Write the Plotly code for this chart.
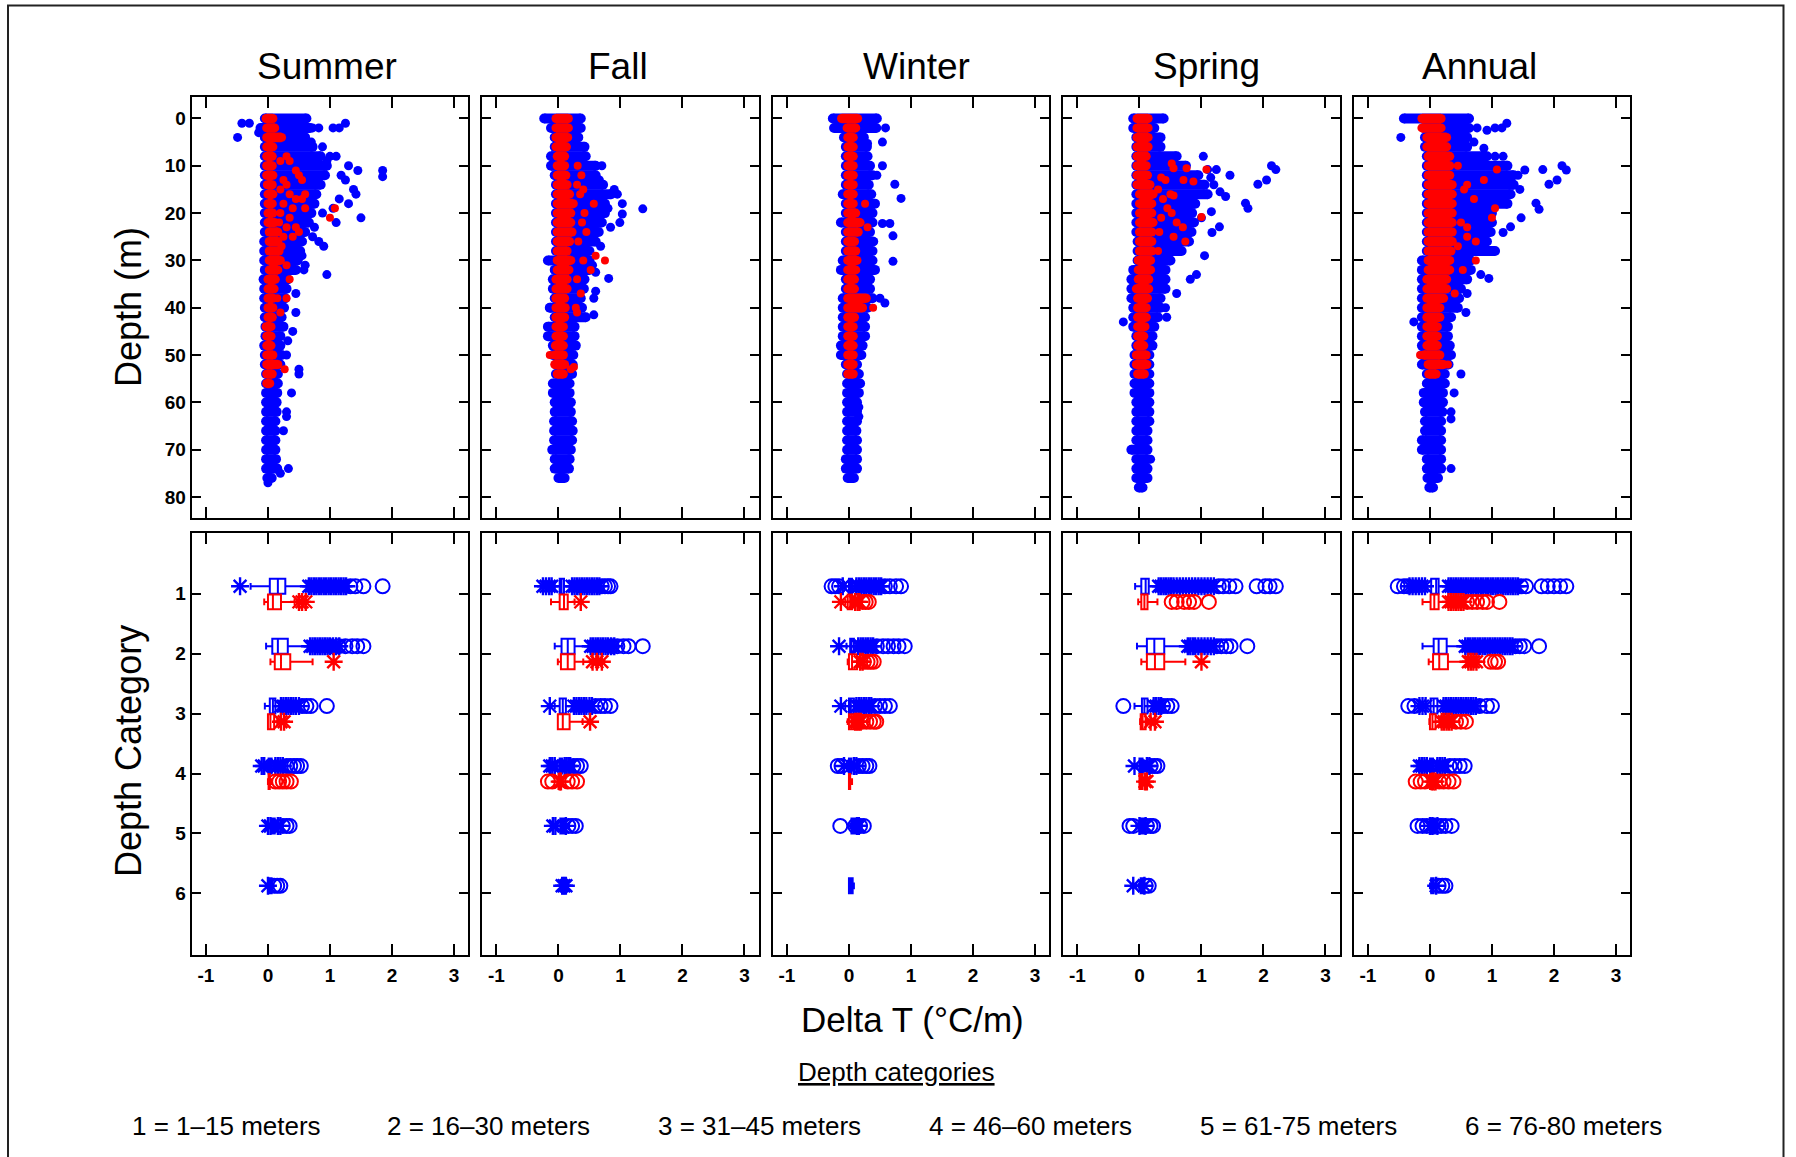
import plotly.graph_objects as go

W, H = 1796, 1157
BLUE = "#0000FF"
RED = "#FF0000"

seasons = ["Summer", "Fall", "Winter", "Spring", "Annual"]
title_x_px = [327, 618, 916, 1206, 1479]
depth_ticks = [0, 10, 20, 30, 40, 50, 60, 70, 80]
category_ticks = [1, 2, 3, 4, 5, 6]
delta_ticks = [-1, 0, 1, 2, 3]
delta_tick_text = ["-1", "0", "1", "2", "3"]
legend_labels = ["1 = 1\u201315 meters", "2 = 16\u201330 meters", "3 = 31\u201345 meters",
                 "4 = 46\u201360 meters", "5 = 61-75 meters", "6 = 76-80 meters"]
legend_x_px = [226, 488, 759, 1030, 1298, 1563]

# ---------------- top panels: depth rows (blue = all, red = subset) ----------------
rows_76 = [0, 2, 4, 6, 8, 10, 12, 14, 16, 18, 20, 22, 24, 26, 28, 30, 32, 34, 36, 38,
           40, 42, 44, 46, 48, 50, 52, 54, 56, 58, 60, 62, 64, 66, 68, 70, 72, 74, 76]
rows_78 = rows_76 + [78]
rows_54 = [0, 2, 4, 6, 8, 10, 12, 14, 16, 18, 20, 22, 24, 26, 28, 30, 32, 34, 36, 38,
           40, 42, 44, 46, 48, 50, 52, 54]
rows_56 = rows_54 + [56]

# Summer
summer_blue_lo = [-0.05, -0.12, -0.05, -0.05, -0.05, -0.05, -0.05, -0.05, -0.05, -0.05, -0.05, -0.05, -0.05,
                  -0.06, -0.06, -0.06, -0.05, -0.07, -0.06, -0.06, -0.05, -0.05, -0.04, -0.04, -0.06, -0.05,
                  -0.05, -0.03, -0.03, -0.03, -0.03, -0.03, -0.03, -0.03, -0.03, -0.03, -0.03, -0.03, -0.01]
summer_blue_hi = [0.62, 0.68, 0.6, 0.72, 0.85, 0.95, 0.92, 0.85, 0.78, 0.75, 0.7, 0.66, 0.6, 0.55, 0.52, 0.48,
                  0.45, 0.32, 0.3, 0.28, 0.26, 0.22, 0.25, 0.2, 0.2, 0.22, 0.2, 0.16, 0.16, 0.15, 0.14, 0.14,
                  0.12, 0.12, 0.12, 0.12, 0.13, 0.15, 0.06]
summer_blue_px = [-0.42, -0.3, -0.49, -0.15, 1.25, 1.15, 1.05, 0.82, 0.72, 0.7, 0.88, 1.0, 1.1, 0.95, 1.3, 1.45,
                  1.85, 1.85, 1.18, 1.25, 1.38, 1.42, 1.15, 1.3, 1.05, 0.88, 1.5, 1.1, 0.75, 0.72, 0.82, 0.9,
                  0.55, 0.6, 0.58, 0.95, 0.45, 0.45, 0.4, 0.32, 0.3, 0.5, 0.5, 0.38, 0.3, 0.3, 0.25, 0.33, 0.2, 0.0]
summer_blue_pd = [1, 1, 4, 3, 1, 2, 2, 2, 2, 5, 6, 8, 8, 9, 10, 11, 11, 12.3, 12, 13, 15, 16, 17, 18, 19, 20,
                  21, 22, 23, 25, 26, 27, 29, 31, 32, 33, 37, 41, 45, 47, 50, 53, 54, 58, 62, 63, 66, 74, 75, 77]
summer_red_lo = [-0.03, -0.02, -0.02, -0.02, -0.02, -0.02, -0.02, -0.01, 0.0, 0.0, 0.0, 0.0, 0.02, 0.02, 0.02,
                 0.02, 0.02, 0.0, 0.0, 0.0, 0.0, 0.0, -0.03, -0.02, -0.02, -0.02, -0.02, -0.02, -0.02]
summer_red_hi = [0.08, 0.11, 0.22, 0.08, 0.07, 0.07, 0.08, 0.07, 0.08, 0.07, 0.08, 0.11, 0.16, 0.16, 0.18, 0.2,
                 0.16, 0.12, 0.1, 0.08, 0.08, 0.07, 0.05, 0.05, 0.05, 0.08, 0.16, 0.07, 0.03]
summer_red_px = [0.3, 0.35, 0.2, 0.45, 0.5, 0.55, 0.25, 0.3, 0.2, 0.35, 0.6, 0.45, 0.55, 0.25, 0.4, 0.6, 1.08,
                 0.2, 0.35, 1.0, 0.18, 0.3, 0.45, 0.5, 0.25, 0.4, 0.22, 0.3, 0.35, 0.15, 0.3, 0.2, 0.27, 0.15]
summer_red_pd = [8, 9, 9, 11, 12, 13, 13, 14, 15, 16, 16, 17, 17, 18, 19, 19, 19, 20, 21, 21, 22, 23, 23, 24,
                 25, 25, 27, 31, 34, 38, 38, 41, 53, 52]

# Fall
fall_blue_lo = [-0.23, -0.12, -0.06, -0.06, -0.12, -0.12, -0.06, -0.04, -0.04, -0.04, -0.04, -0.04, -0.04,
                -0.04, -0.04, -0.17, -0.06, -0.09, -0.09, -0.06, -0.14, -0.06, -0.17, -0.17, -0.09, -0.09,
                -0.04, -0.04, -0.09, -0.09, -0.06, -0.06, -0.07, -0.07, -0.07, -0.1, -0.06, -0.06, 0.0]
fall_blue_hi = [0.36, 0.36, 0.32, 0.42, 0.44, 0.6, 0.6, 0.72, 0.85, 0.75, 0.75, 0.7, 0.65, 0.6, 0.5, 0.5, 0.5,
                0.42, 0.41, 0.36, 0.38, 0.44, 0.26, 0.26, 0.28, 0.24, 0.23, 0.22, 0.18, 0.18, 0.2, 0.2, 0.22,
                0.23, 0.22, 0.2, 0.18, 0.17, 0.1]
fall_blue_px = [0.7, 0.9, 1.03, 1.36, 1.03, 0.99, 0.84, 0.68, 0.6, 0.81, 0.6, 0.57, 0.57, -0.14, 0.55, 0.95,
                0.8, 0.66]
fall_blue_pd = [10, 15, 18, 19.1, 20.2, 22, 23, 27, 32.5, 33.8, 36.5, 38, 41.5, 40, 31, 16, 19, 13]
fall_red_lo = [-0.04, -0.04, -0.04, -0.04, -0.02, -0.02, -0.02, -0.02, -0.02, -0.02, -0.02, -0.02, -0.02,
               -0.02, -0.02, -0.02, -0.02, -0.04, -0.04, -0.04, -0.04, -0.04, -0.04, -0.04, -0.05, -0.06,
               -0.06, -0.02]
fall_red_hi = [0.16, 0.16, 0.15, 0.13, 0.1, 0.1, 0.12, 0.14, 0.18, 0.24, 0.2, 0.2, 0.22, 0.18, 0.14, 0.2, 0.17,
               0.14, 0.14, 0.1, 0.11, 0.1, 0.08, 0.08, 0.08, 0.08, 0.1, 0.08]
fall_red_px = [0.31, 0.37, 0.4, 0.57, 0.6, 0.75, 0.52, 0.36, 0.28, 0.3, -0.14, 0.2, 0.25, 0.3, 0.35, 0.42,
               0.38, 0.45, 0.32, 0.4, 0.3]
fall_red_pd = [10, 12, 15, 18, 29, 30, 32, 37, 40, 41, 50, 53, 52.5, 14, 16, 20, 22, 24, 26, 30, 34]

# Winter
winter_blue_lo = [-0.26, -0.24, -0.08, -0.05, -0.05, -0.05, -0.05, -0.05, -0.1, -0.05, -0.05, -0.13, -0.05,
                  -0.05, -0.05, -0.1, -0.13, -0.05, -0.05, -0.1, -0.1, -0.1, -0.1, -0.1, -0.13, -0.13, -0.05,
                  -0.03, -0.03, -0.03, -0.03, -0.03, -0.03, -0.03, -0.03, -0.03, -0.05, -0.05, -0.02]
winter_blue_hi = [0.45, 0.44, 0.24, 0.29, 0.3, 0.34, 0.38, 0.32, 0.36, 0.42, 0.38, 0.38, 0.34, 0.38, 0.38,
                  0.38, 0.42, 0.34, 0.34, 0.38, 0.3, 0.26, 0.26, 0.26, 0.22, 0.2, 0.13, 0.16, 0.18, 0.16, 0.13,
                  0.13, 0.13, 0.12, 0.13, 0.13, 0.13, 0.13, 0.08]
winter_blue_px = [0.59, 0.54, 0.3, 0.54, 0.74, 0.84, 0.54, 0.66, 0.71, 0.71, 0.5, 0.58, 0.16, 0.16, 0.45, 0.4]
winter_blue_pd = [2, 5, 5.3, 10, 13.9, 16.9, 22.2, 22.2, 24.8, 30.2, 38, 39, 61, 63, 12, 26]
winter_red_lo = [-0.12, -0.03, -0.02, -0.02, -0.02, -0.02, -0.02, -0.02, -0.02, -0.02, -0.02, -0.02, -0.02,
                 -0.02, -0.02, -0.02, -0.02, -0.02, -0.02, -0.02, -0.02, -0.02, -0.02, -0.02, -0.02, -0.02,
                 -0.02, -0.02]
winter_red_hi = [0.14, 0.11, 0.07, 0.07, 0.07, 0.07, 0.07, 0.07, 0.07, 0.07, 0.11, 0.18, 0.15, 0.09, 0.11,
                 0.13, 0.11, 0.09, 0.09, 0.28, 0.22, 0.09, 0.07, 0.07, 0.07, 0.07, 0.07, 0.07]
winter_red_px = [0.39, 0.26, 0.3]
winter_red_pd = [40, 18, 23]

# Spring
spring_blue_lo = [-0.1, -0.1, -0.05, -0.05, -0.05, -0.05, -0.05, -0.05, -0.05, -0.05, -0.05, -0.05, -0.05,
                  -0.03, -0.03, -0.03, -0.1, -0.13, -0.13, -0.13, -0.1, -0.1, -0.1, -0.05, -0.05, -0.08, -0.08,
                  -0.08, -0.08, -0.08, -0.05, -0.05, -0.05, -0.05, -0.05, -0.13, -0.05, -0.05, -0.05, -0.01]
spring_blue_hi = [0.39, 0.24, 0.34, 0.34, 0.6, 0.75, 0.95, 1.05, 1.1, 0.9, 0.85, 0.88, 0.84, 0.8, 0.68, 0.5,
                  0.42, 0.42, 0.42, 0.34, 0.34, 0.3, 0.24, 0.21, 0.21, 0.16, 0.16, 0.16, 0.16, 0.16, 0.16,
                  0.16, 0.16, 0.13, 0.13, 0.13, 0.13, 0.13, 0.13, 0.05]
spring_blue_px = [1.03, 1.1, 1.24, 2.13, 2.2, 1.46, 1.91, 2.05, 1.39, 1.71, 1.75, 1.16, 1.0, 1.29, 1.17, 1.05,
                  0.82, 0.92, 0.6, 0.44, -0.26, 0.42, 0.18, 1.2, 1.3, 1.15]
spring_blue_pd = [8, 10.8, 10.8, 10, 10.8, 12, 13.9, 13, 16.5, 17.9, 19, 19.7, 21, 22.9, 24.1, 29, 34, 33, 37,
                  42, 43, 40, 72, 14, 15.5, 12.5]
spring_red_lo = [-0.04, -0.04, -0.04, -0.04, -0.04, -0.04, -0.04, -0.04, 0.0, 0.0, 0.0, 0.0, 0.0, 0.0, 0.0,
                 -0.02, -0.02, -0.02, -0.05, -0.03, -0.03, -0.03, -0.03, -0.03, -0.03, -0.05, -0.05, -0.03]
spring_red_hi = [0.14, 0.14, 0.14, 0.14, 0.11, 0.11, 0.13, 0.17, 0.22, 0.2, 0.2, 0.22, 0.2, 0.2, 0.2, 0.18,
                 0.18, 0.15, 0.15, 0.13, 0.11, 0.11, 0.09, 0.07, 0.07, 0.11, 0.12, 0.08]
spring_red_px = [0.52, 0.55, 0.76, 1.08, 0.35, 0.42, 0.71, 0.87, 0.5, 0.55, 0.52, 1.0, 0.6, 0.7, 0.55, 0.74,
                 0.45, 0.3, 0.38, 0.35, 0.32, 0.3]
spring_red_pd = [9.5, 10.5, 10.5, 10.8, 12.5, 13, 13, 13.3, 16, 16.3, 20, 20.8, 22, 23, 25, 26, 19, 15, 17, 21,
                 24, 28]

# Annual
annual_blue_lo = [-0.42, -0.1, -0.08, -0.08, -0.05, -0.05, -0.05, -0.05, -0.05, -0.05, -0.05, -0.05, -0.05,
                  -0.05, -0.05, -0.13, -0.13, -0.13, -0.13, -0.13, -0.13, -0.13, -0.13, -0.13, -0.13, -0.13,
                  -0.13, -0.05, -0.05, -0.1, -0.1, -0.08, -0.08, -0.08, -0.13, -0.13, -0.05, -0.05, -0.04, -0.01]
annual_blue_hi = [0.63, 0.63, 0.6, 0.6, 0.92, 1.25, 1.35, 1.35, 1.3, 1.25, 1.0, 1.0, 0.98, 0.92, 1.05, 0.66,
                  0.66, 0.6, 0.5, 0.47, 0.45, 0.34, 0.29, 0.29, 0.32, 0.34, 0.3, 0.24, 0.24, 0.21, 0.21, 0.2,
                  0.18, 0.18, 0.18, 0.18, 0.18, 0.18, 0.13, 0.05]
annual_blue_px = [0.76, 0.92, 1.05, 1.16, 1.24, -0.47, 0.71, 0.87, 1.05, 1.18, 1.53, 1.82, 2.13, 2.2, 1.92,
                  2.05, 1.71, 1.76, 1.47, 1.3, 1.18, 0.82, 0.95, 0.6, 0.58, -0.26, 0.5, 0.39, 0.34, 0.34, 0.34,
                  1.42, 1.45]
annual_blue_pd = [2, 2.5, 2, 2, 1, 4, 5, 6.3, 8, 8, 10.9, 10.8, 10, 10.9, 13.9, 13, 17.9, 19.2, 21, 22.9, 24.1,
                  33, 33.8, 37, 41, 43, 54, 58, 62, 63.5, 74, 12, 15]
annual_red_lo = [-0.13, -0.13, -0.05, -0.05, -0.03, -0.03, -0.03, -0.03, -0.03, -0.03, -0.03, -0.03, -0.03,
                 -0.03, -0.03, -0.03, -0.03, -0.05, -0.05, -0.05, -0.05, -0.05, -0.05, -0.05, -0.05, -0.1,
                 -0.03, -0.02]
annual_red_hi = [0.18, 0.18, 0.27, 0.27, 0.32, 0.32, 0.32, 0.36, 0.36, 0.36, 0.36, 0.36, 0.36, 0.36, 0.34,
                 0.32, 0.32, 0.27, 0.27, 0.22, 0.16, 0.16, 0.12, 0.12, 0.12, 0.16, 0.22, 0.1]
annual_red_px = [0.45, 1.08, 0.87, 0.55, 0.71, 1.05, 1.0, 0.6, 0.6, 0.74, 0.74, 0.53, 0.4, -0.16, 0.29, 0.6,
                 0.5, 0.45]
annual_red_pd = [10, 10.8, 13, 15, 17, 19, 21, 23, 25, 26, 30, 32, 37, 50, 52, 14, 22, 27]

# ---------------- bottom panels: box statistics by depth category ----------------
summer_blue_q1 = [0.03, 0.07, 0.03, 0.01, 0.05, 0.02]
summer_blue_med = [0.16, 0.16, 0.08, 0.03, 0.08, 0.04]
summer_blue_q3 = [0.28, 0.32, 0.12, 0.06, 0.11, 0.06]
summer_blue_lw = [-0.28, -0.03, -0.05, -0.02, 0.02, 0.01]
summer_blue_uw = [0.64, 0.66, 0.19, 0.1, 0.15, 0.08]
summer_blue_stars = [[-0.45, 0.66, 0.7, 0.74, 0.78, 0.82, 0.86, 0.9, 0.94, 0.98, 1.02, 1.06, 1.1, 1.14, 1.18, 1.22, 1.26],
                     [0.68, 0.72, 0.76, 0.8, 0.84, 0.88, 0.92, 0.96, 1.0, 1.05, 1.1, 1.15],
                     [0.21, 0.25, 0.29, 0.33, 0.37, 0.41, 0.45, 0.5],
                     [-0.1, -0.06, 0.12, 0.16, 0.2, 0.24],
                     [0.0, 0.04, 0.16, 0.2],
                     [0.0]]
summer_blue_rings = [[1.33, 1.41, 1.54, 1.85], [1.01, 1.14, 1.25, 1.36, 1.44, 1.54], [0.55, 0.62, 0.69, 0.95],
                     [0.3, 0.36, 0.42, 0.47, 0.53], [0.24, 0.3, 0.35], [0.1, 0.15, 0.2]]
summer_red_q1 = [0.0, 0.11, 0.0, 0.01]
summer_red_med = [0.08, 0.21, 0.04, 0.02]
summer_red_q3 = [0.21, 0.36, 0.1, 0.03]
summer_red_lw = [-0.06, 0.04, 0.0, 0.0]
summer_red_uw = [0.43, 0.72, 0.15, 0.05]
summer_red_stars = [[0.5, 0.55, 0.61], [1.06], [0.21, 0.26], []]
summer_red_rings = [[], [], [], [0.12, 0.18, 0.24, 0.3, 0.37]]

fall_blue_q1 = [0.02, 0.05, 0.02, 0.02, 0.03, 0.06]
fall_blue_med = [0.05, 0.15, 0.07, 0.04, 0.06, 0.08]
fall_blue_q3 = [0.09, 0.26, 0.12, 0.06, 0.09, 0.1]
fall_blue_lw = [-0.06, -0.06, -0.06, -0.04, -0.02, 0.05]
fall_blue_uw = [0.2, 0.5, 0.23, 0.1, 0.12, 0.11]
fall_blue_stars = [[-0.25, -0.2, -0.15, -0.11, 0.22, 0.26, 0.3, 0.34, 0.38, 0.42, 0.46, 0.5, 0.54, 0.58, 0.62, 0.66],
                   [0.52, 0.56, 0.6, 0.64, 0.68, 0.72, 0.76, 0.8, 0.85, 0.9],
                   [-0.14, 0.25, 0.29, 0.33, 0.37, 0.41, 0.45, 0.5, 0.54],
                   [-0.14, -0.1, -0.06, 0.1, 0.13, 0.16, 0.19],
                   [-0.09, -0.05, 0.12],
                   [0.06, 0.09, 0.12]]
fall_blue_rings = [[0.7, 0.75, 0.8, 0.84], [0.86, 0.95, 1.05, 1.13, 1.36], [0.6, 0.68, 0.75, 0.84],
                   [0.24, 0.3, 0.36], [0.16, 0.22, 0.28], []]
fall_red_q1 = [0.02, 0.04, -0.01, 0.0]
fall_red_med = [0.09, 0.15, 0.07, 0.0]
fall_red_q3 = [0.15, 0.26, 0.18, 0.01]
fall_red_lw = [-0.12, -0.01, -0.01, -0.01]
fall_red_uw = [0.26, 0.4, 0.39, 0.02]
fall_red_stars = [[0.36], [0.55, 0.62, 0.7], [0.51], [0.02, 0.04]]
fall_red_rings = [[], [], [], [-0.17, -0.1, 0.15, 0.22, 0.3]]

winter_blue_q1 = [0.0, 0.02, 0.0, 0.0, 0.04, 0.0]
winter_blue_med = [0.02, 0.04, 0.03, 0.02, 0.07, 0.03]
winter_blue_q3 = [0.05, 0.08, 0.08, 0.04, 0.1, 0.06]
winter_blue_lw = [-0.06, -0.04, -0.06, -0.03, 0.02, 0.0]
winter_blue_uw = [0.1, 0.13, 0.13, 0.07, 0.12, 0.08]
winter_blue_stars = [[-0.1, 0.12, 0.16, 0.2, 0.24, 0.28, 0.32, 0.36, 0.4, 0.44, 0.48, 0.52],
                     [-0.16, 0.15, 0.19, 0.23, 0.27, 0.31, 0.35, 0.39],
                     [-0.13, 0.12, 0.16, 0.2, 0.24, 0.28, 0.32, 0.36],
                     [-0.08, 0.08, 0.12],
                     [0.13, 0.16],
                     []]
winter_blue_rings = [[-0.28, -0.22, -0.16, 0.58, 0.66, 0.76, 0.84], [0.45, 0.55, 0.63, 0.72, 0.8, 0.9],
                     [0.42, 0.5, 0.58, 0.66], [-0.18, -0.12, 0.16, 0.22, 0.28, 0.33], [-0.14, 0.1, 0.18, 0.24], []]
winter_red_q1 = [-0.02, 0.0, 0.0, 0.0]
winter_red_med = [0.02, 0.05, 0.04, 0.01]
winter_red_q3 = [0.05, 0.13, 0.08, 0.02]
winter_red_lw = [-0.06, -0.02, -0.02, 0.0]
winter_red_uw = [0.08, 0.16, 0.1, 0.05]
winter_red_stars = [[-0.13, 0.1, 0.14, 0.17], [0.18, 0.22], [0.1, 0.13, 0.16, 0.19], []]
winter_red_rings = [[0.22, 0.27, 0.32], [0.24, 0.3, 0.35, 0.4], [0.22, 0.28, 0.34, 0.4, 0.44], []]

spring_blue_q1 = [0.03, 0.12, 0.04, 0.0, 0.02, 0.02]
spring_blue_med = [0.1, 0.24, 0.08, 0.02, 0.05, 0.04]
spring_blue_q3 = [0.15, 0.4, 0.13, 0.05, 0.08, 0.06]
spring_blue_lw = [-0.07, -0.04, -0.08, -0.04, -0.02, -0.05]
spring_blue_uw = [0.29, 0.76, 0.21, 0.1, 0.1, 0.08]
spring_blue_stars = [[0.31, 0.35, 0.39, 0.43, 0.47, 0.51, 0.55, 0.6, 0.65, 0.7, 0.75, 0.8, 0.85, 0.9, 0.95, 1.0,
                      1.05, 1.1, 1.15, 1.2],
                     [0.78, 0.82, 0.86, 0.9, 0.95, 1.0, 1.05, 1.1, 1.15, 1.2],
                     [0.23, 0.27, 0.31, 0.35],
                     [-0.08, 0.12, 0.16],
                     [0.0, 0.1],
                     [-0.1, 0.08]]
spring_blue_rings = [[1.28, 1.35, 1.45, 1.55, 1.89, 2.03, 2.1, 2.2], [1.25, 1.32, 1.4, 1.47, 1.74],
                     [-0.26, 0.38, 0.45, 0.52], [0.18, 0.24, 0.29], [-0.16, -0.1, 0.12, 0.18, 0.22], [0.1, 0.15]]
spring_red_q1 = [0.03, 0.12, 0.02, 0.0]
spring_red_med = [0.08, 0.25, 0.05, 0.02]
spring_red_q3 = [0.13, 0.4, 0.1, 0.05]
spring_red_lw = [-0.02, 0.03, 0.01, 0.0]
spring_red_uw = [0.29, 0.74, 0.12, 0.06]
spring_red_stars = [[], [1.0], [0.18, 0.25], [0.09, 0.12]]
spring_red_rings = [[0.52, 0.6, 0.72, 0.8, 0.88, 1.12], [], [], []]

annual_blue_q1 = [0.02, 0.06, 0.01, 0.0, 0.02, 0.02]
annual_blue_med = [0.1, 0.14, 0.06, 0.02, 0.05, 0.04]
annual_blue_q3 = [0.14, 0.27, 0.12, 0.05, 0.08, 0.06]
annual_blue_lw = [-0.05, -0.12, -0.05, -0.04, -0.02, 0.0]
annual_blue_uw = [0.28, 0.55, 0.2, 0.1, 0.1, 0.08]
annual_blue_stars = [[-0.33, -0.28, -0.23, -0.18, -0.13, -0.08, 0.3, 0.34, 0.38, 0.42, 0.46, 0.5, 0.54, 0.58,
                      0.62, 0.66, 0.7, 0.74, 0.78, 0.82, 0.86, 0.9, 0.94, 0.98, 1.02, 1.06, 1.1, 1.14, 1.18,
                      1.22, 1.26, 1.3, 1.34, 1.38, 1.42],
                     [0.57, 0.61, 0.65, 0.69, 0.73, 0.77, 0.81, 0.85, 0.89, 0.93, 0.97, 1.01, 1.05, 1.09, 1.13,
                      1.17, 1.21, 1.25, 1.29, 1.33],
                     [-0.17, -0.12, -0.07, 0.22, 0.26, 0.3, 0.34, 0.38, 0.42, 0.46, 0.5, 0.54, 0.58, 0.62, 0.66,
                      0.7, 0.74],
                     [-0.17, -0.13, -0.09, -0.05, 0.12, 0.16, 0.2, 0.24],
                     [0.0, 0.04, 0.12],
                     [0.1]]
annual_blue_rings = [[-0.52, -0.42, -0.36, 1.47, 1.55, 1.8, 1.9, 2.0, 2.1, 2.2], [1.38, 1.45, 1.52, 1.76],
                     [-0.35, -0.25, 0.8, 0.92, 1.0], [0.32, 0.4, 0.48, 0.56],
                     [-0.2, -0.12, -0.05, 0.12, 0.18, 0.25, 0.35], [0.14, 0.2, 0.25]]
annual_red_q1 = [0.01, 0.05, 0.0, 0.0]
annual_red_med = [0.07, 0.15, 0.04, 0.0]
annual_red_q3 = [0.14, 0.29, 0.09, 0.01]
annual_red_lw = [-0.12, -0.02, -0.01, -0.01]
annual_red_uw = [0.28, 0.6, 0.17, 0.02]
annual_red_stars = [[0.3, 0.34, 0.38, 0.42, 0.46, 0.5, 0.54], [0.62, 0.66, 0.7, 0.75],
                    [0.19, 0.23, 0.27, 0.31, 0.35], [0.03, 0.06, 0.09]]
annual_red_rings = [[0.6, 0.68, 0.76, 0.85, 0.92, 1.12], [0.98, 1.05, 1.1], [0.42, 0.5, 0.58],
                    [-0.23, -0.15, -0.08, 0.15, 0.22, 0.3, 0.38]]

top_data = [
    (rows_76, summer_blue_lo, summer_blue_hi, summer_blue_px, summer_blue_pd,
     rows_56, summer_red_lo, summer_red_hi, summer_red_px, summer_red_pd),
    (rows_76, fall_blue_lo, fall_blue_hi, fall_blue_px, fall_blue_pd,
     rows_54, fall_red_lo, fall_red_hi, fall_red_px, fall_red_pd),
    (rows_76, winter_blue_lo, winter_blue_hi, winter_blue_px, winter_blue_pd,
     rows_54, winter_red_lo, winter_red_hi, winter_red_px, winter_red_pd),
    (rows_78, spring_blue_lo, spring_blue_hi, spring_blue_px, spring_blue_pd,
     rows_54, spring_red_lo, spring_red_hi, spring_red_px, spring_red_pd),
    (rows_78, annual_blue_lo, annual_blue_hi, annual_blue_px, annual_blue_pd,
     rows_54, annual_red_lo, annual_red_hi, annual_red_px, annual_red_pd),
]
box_data = [
    ((summer_blue_q1, summer_blue_med, summer_blue_q3, summer_blue_lw, summer_blue_uw, summer_blue_stars, summer_blue_rings),
     (summer_red_q1, summer_red_med, summer_red_q3, summer_red_lw, summer_red_uw, summer_red_stars, summer_red_rings)),
    ((fall_blue_q1, fall_blue_med, fall_blue_q3, fall_blue_lw, fall_blue_uw, fall_blue_stars, fall_blue_rings),
     (fall_red_q1, fall_red_med, fall_red_q3, fall_red_lw, fall_red_uw, fall_red_stars, fall_red_rings)),
    ((winter_blue_q1, winter_blue_med, winter_blue_q3, winter_blue_lw, winter_blue_uw, winter_blue_stars, winter_blue_rings),
     (winter_red_q1, winter_red_med, winter_red_q3, winter_red_lw, winter_red_uw, winter_red_stars, winter_red_rings)),
    ((spring_blue_q1, spring_blue_med, spring_blue_q3, spring_blue_lw, spring_blue_uw, spring_blue_stars, spring_blue_rings),
     (spring_red_q1, spring_red_med, spring_red_q3, spring_red_lw, spring_red_uw, spring_red_stars, spring_red_rings)),
    ((annual_blue_q1, annual_blue_med, annual_blue_q3, annual_blue_lw, annual_blue_uw, annual_blue_stars, annual_blue_rings),
     (annual_red_q1, annual_red_med, annual_red_q3, annual_red_lw, annual_red_uw, annual_red_stars, annual_red_rings)),
]

# ---------------- layout geometry (pixels) ----------------
PANEL_X0, PANEL_STEP, PANEL_W = 191.7, 290.5, 276.5
TOP_PX = (96.7, 518.3)
BOT_PX = (532.7, 955.0)
BLUE_OFF, RED_OFF, BOX_W = -0.125, 0.135, 0.25

REG = "Liberation Sans, Arial, Helvetica, sans-serif"
tickfont = dict(family=REG, size=19, color="black", weight="bold")


def px_x(p):
    return p / W


def px_y(p):
    return 1 - p / H


def segs(depths, lo, hi):
    xs, ys = [], []
    for d, a, b in zip(depths, lo, hi):
        xs += [a, b, None]
        ys += [d, d, None]
    return xs, ys


fig = go.Figure()
layout_axes = {}

for i in range(5):
    x0 = PANEL_X0 + i * PANEL_STEP
    dom = [px_x(x0), px_x(x0 + PANEL_W)]
    ta, ba = i + 1, i + 6
    common_x = dict(domain=dom, range=[-1.23, 3.23], tickvals=delta_ticks, ticktext=delta_tick_text,
                    ticks="inside", ticklen=11, tickwidth=2, tickcolor="black", showline=True,
                    linecolor="black", linewidth=2, mirror="ticks", showgrid=False, zeroline=False,
                    tickfont=tickfont, ticklabelstandoff=2)
    common_y = dict(ticks="inside", ticklen=9, tickwidth=2, tickcolor="black", showline=True,
                    linecolor="black", linewidth=2, mirror="ticks", showgrid=False, zeroline=False,
                    tickfont=tickfont)
    layout_axes[f"xaxis{ta}"] = dict(common_x, anchor=f"y{ta}", showticklabels=False)
    layout_axes[f"yaxis{ta}"] = dict(common_y, anchor=f"x{ta}",
                                     domain=[px_y(TOP_PX[1]), px_y(TOP_PX[0])],
                                     range=[84.5, -4.6], tickvals=depth_ticks, showticklabels=(i == 0))
    layout_axes[f"xaxis{ba}"] = dict(common_x, anchor=f"y{ba}", showticklabels=True)
    layout_axes[f"yaxis{ba}"] = dict(common_y, anchor=f"x{ba}",
                                     domain=[px_y(BOT_PX[1]), px_y(BOT_PX[0])],
                                     range=[7.03, -0.02], tickvals=category_ticks, showticklabels=(i == 0))

    # --- top scatter panel ---
    (bd, blo, bhi, bpx, bpd, rd, rlo, rhi, rpx, rpd) = top_data[i]
    xa, ya = f"x{ta}", f"y{ta}"
    sx, sy = segs(bd, blo, bhi)
    fig.add_trace(go.Scatter(x=sx, y=sy, mode="lines+markers", xaxis=xa, yaxis=ya,
                             line=dict(color=BLUE, width=10), marker=dict(color=BLUE, size=10),
                             hoverinfo="skip", showlegend=False))
    fig.add_trace(go.Scatter(x=bpx, y=bpd, mode="markers", xaxis=xa, yaxis=ya,
                             marker=dict(color=BLUE, size=9), hoverinfo="skip", showlegend=False))
    sx, sy = segs(rd, rlo, rhi)
    fig.add_trace(go.Scatter(x=sx, y=sy, mode="lines+markers", xaxis=xa, yaxis=ya,
                             line=dict(color=RED, width=9.6), marker=dict(color=RED, size=9),
                             hoverinfo="skip", showlegend=False))
    fig.add_trace(go.Scatter(x=rpx, y=rpd, mode="markers", xaxis=xa, yaxis=ya,
                             marker=dict(color=RED, size=8), hoverinfo="skip", showlegend=False))

    # --- bottom box panel ---
    xa, ya = f"x{ba}", f"y{ba}"
    for stats, color, off in ((box_data[i][0], BLUE, BLUE_OFF), (box_data[i][1], RED, RED_OFF)):
        q1, med, q3, lw, uw, stars, rings = stats
        n = len(q1)
        cats = category_ticks[:n]
        fig.add_trace(go.Box(orientation="h", y=[c + off for c in cats], q1=q1, median=med, q3=q3,
                             lowerfence=lw, upperfence=uw, width=BOX_W, whiskerwidth=0.45,
                             line=dict(color=color, width=2), fillcolor="rgba(255,255,255,0)",
                             boxpoints=False, xaxis=xa, yaxis=ya, hoverinfo="skip", showlegend=False))
        st_x, st_y, rg_x, rg_y = [], [], [], []
        for c, vals in zip(cats, stars):
            st_x += vals
            st_y += [c + off] * len(vals)
        for c, vals in zip(cats, rings):
            rg_x += vals
            rg_y += [c + off] * len(vals)
        fig.add_trace(go.Scatter(x=st_x, y=st_y, mode="markers", xaxis=xa, yaxis=ya,
                                 marker=dict(symbol="asterisk-open", size=15, color=color,
                                             line=dict(color=color, width=2.4)),
                                 hoverinfo="skip", showlegend=False))
        fig.add_trace(go.Scatter(x=rg_x, y=rg_y, mode="markers", xaxis=xa, yaxis=ya,
                                 marker=dict(symbol="circle-open", size=14, color=color,
                                             line=dict(color=color, width=2)),
                                 hoverinfo="skip", showlegend=False))

annotations = []
for name, tx in zip(seasons, title_x_px):
    annotations.append(dict(text=name, x=px_x(tx), y=px_y(66), xref="paper", yref="paper",
                            xanchor="center", yanchor="middle", showarrow=False,
                            font=dict(family=REG, size=37, color="black")))
annotations.append(dict(text="Depth (m)", x=px_x(128), y=px_y(307), xref="paper", yref="paper",
                        xanchor="center", yanchor="middle", textangle=-90, showarrow=False,
                        font=dict(family=REG, size=36, color="black")))
annotations.append(dict(text="Depth Category", x=px_x(128), y=px_y(751), xref="paper", yref="paper",
                        xanchor="center", yanchor="middle", textangle=-90, showarrow=False,
                        font=dict(family=REG, size=36, color="black")))
annotations.append(dict(text="Delta T (\u00b0C/m)", x=px_x(913), y=px_y(1019), xref="paper", yref="paper",
                        xanchor="center", yanchor="middle", showarrow=False,
                        font=dict(family=REG, size=35, color="black")))
annotations.append(dict(text="<u>Depth categories</u>", x=px_x(896), y=px_y(1072), xref="paper",
                        yref="paper", xanchor="center", yanchor="middle", showarrow=False,
                        font=dict(family=REG, size=26, color="black")))
for lab, lx in zip(legend_labels, legend_x_px):
    annotations.append(dict(text=lab, x=px_x(lx), y=px_y(1126), xref="paper", yref="paper",
                            xanchor="center", yanchor="middle", showarrow=False,
                            font=dict(family=REG, size=26, color="black")))

frame = dict(type="path", xref="paper", yref="paper",
             path=f"M {px_x(8)} {px_y(1160)} L {px_x(8)} {px_y(5.5)} L {px_x(1783.5)} {px_y(5.5)} "
                  f"L {px_x(1783.5)} {px_y(1160)}",
             line=dict(color="#222222", width=2))

fig.update_layout(width=W, height=H, margin=dict(l=0, r=0, t=0, b=0), paper_bgcolor="white",
                  plot_bgcolor="white", showlegend=False, annotations=annotations, shapes=[frame],
                  boxmode="overlay", **layout_axes)

fig.write_html("out.html")
